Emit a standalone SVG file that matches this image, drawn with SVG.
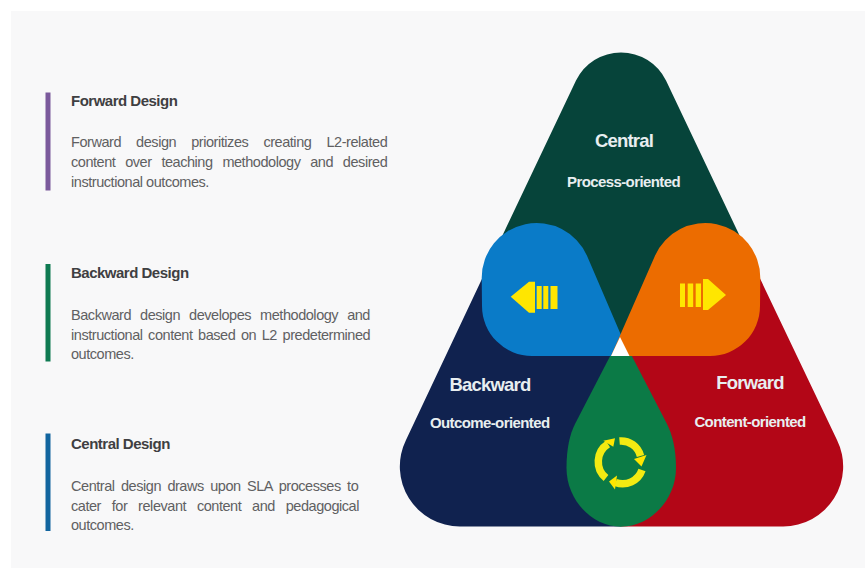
<svg xmlns="http://www.w3.org/2000/svg" width="865" height="568" viewBox="0 0 865 568">
<style>
text{font-family:"Liberation Sans",Arial,sans-serif}
.t{font-size:15px;font-weight:700;fill:#3f3f42;letter-spacing:-.5px}
.b{font-size:14.5px;fill:#606062;letter-spacing:-.45px}
.h{font-size:18.5px;font-weight:700;fill:#e8eef0;text-anchor:middle;letter-spacing:-.8px}
.s{font-size:15px;font-weight:700;fill:#e8eef0;text-anchor:middle;letter-spacing:-.6px}
.y{fill:#ffe600}
.c{fill:none;stroke:#f2ea12;stroke-width:7.5}
</style>
<rect width="865" height="568" fill="#fff"/>
<rect x="11" y="11" width="854" height="557" fill="#f8f8f9"/>
<g id="forward-design">
<rect x="45.5" y="92.5" width="5" height="98" fill="#7b5a9c"/>
<text class="t" x="71" y="105.5">Forward Design</text>
<text class="b" x="71" y="147" word-spacing="11.5">Forward design prioritizes creating L2-related</text>
<text class="b" x="71" y="166.5" word-spacing="6.2">content over teaching methodology and desired</text>
<text class="b" x="71" y="186.5">instructional outcomes.</text>
</g>
<g id="backward-design">
<rect x="45.5" y="264" width="5" height="97.5" fill="#0f7a52"/>
<text class="t" x="71" y="278">Backward Design</text>
<text class="b" x="71" y="320" word-spacing="5.4">Backward design developes methodology and</text>
<text class="b" x="71" y="339.5" word-spacing="2">instructional content based on L2 predetermined</text>
<text class="b" x="71" y="359">outcomes.</text>
</g>
<g id="central-design">
<rect x="45.5" y="433.5" width="5" height="97.5" fill="#12659f"/>
<text class="t" x="71" y="449">Central Design</text>
<text class="b" x="71" y="490.5" word-spacing="2.8">Central design draws upon SLA processes to</text>
<text class="b" x="71" y="510.5" word-spacing="7.2">cater for relevant content and pedagogical</text>
<text class="b" x="71" y="530">outcomes.</text>
</g>
<g id="connectors"></g>
<g id="central">
<path d="M576,80.6A50,50 0 0 1 666,80.6L745,247L621,345L497,247Z" fill="#06443a"/>
</g>
<g id="backward">
<path d="M497,247L406,440A60,60 0 0 0 460,526.5L621,526.5L621,340Z" fill="#10224f"/>
</g>
<g id="forward">
<path d="M745,247L837,440A60,60 0 0 1 783,526.5L621,526.5L621,340Z" fill="#b30617"/>
</g>
<g id="cycle-drop">
<path d="M621,335L575,424C570,434 566.5,448 566.5,468C566.5,500 592,526.7 621,526.7C650,526.7 676,500 676,468C676,448 672,434 667,424Z" fill="#0b7a46"/>
<path class="c" d="M619.5,441A20,20 0 0 1 640.5,456"/>
<polygon class="y" points="646.5,455 634,459 641.5,466.5"/>
<path class="c" d="M642,470A20.5,20.5 0 0 1 615.5,482.5"/>
<polygon class="y" points="609,481.5 617,475.5 615,489.5"/>
<path class="c" d="M606,478A21,21 0 0 1 608,444"/>
<polygon class="y" points="615,438.3 603.3,440.7 613.3,446.7"/>
</g>
<g id="backward-arrow">
<path d="M587,255.7L630,356L532,356A50,50 0 0 1 482,306L481.7,278A55,55 0 0 1 587,255.7Z" fill="#0a7bc8"/>
<path class="y" d="M510.7,296.7L529,281.7L535,281.7L535,312.7L529,312.7Z"/>
<path class="y" d="M536.7,286h5v23h-5zM543.3,286h5v23h-5zM550.5,286h7v23h-7z"/>
</g>
<g id="forward-arrow">
<path d="M655,255.7L611,356L710,356A50,50 0 0 0 760,306L760.3,278A55,55 0 0 0 655,255.7Z" fill="#ec6c00"/>
<path class="y" d="M726,295L708,279L703,279L703,310L708,310Z"/>
<path class="y" d="M680,283.5h5v23.5h-5zM687.7,283.5h5.5v23.5h-5.5zM695.7,283.5h5.3v23.5h-5.3z"/>
</g>
<polygon id="center" points="620,337 611,356 629.5,356" fill="#fff"/>
<g id="labels">
<text class="h" x="624" y="146.5">Central</text>
<text class="s" x="623.5" y="186.5">Process-oriented</text>
<text class="h" x="490" y="390.5">Backward</text>
<text class="s" x="489.7" y="428">Outcome-oriented</text>
<text class="h" x="750" y="389">Forward</text>
<text class="s" x="750" y="426.5">Content-oriented</text>
</g>
</svg>
